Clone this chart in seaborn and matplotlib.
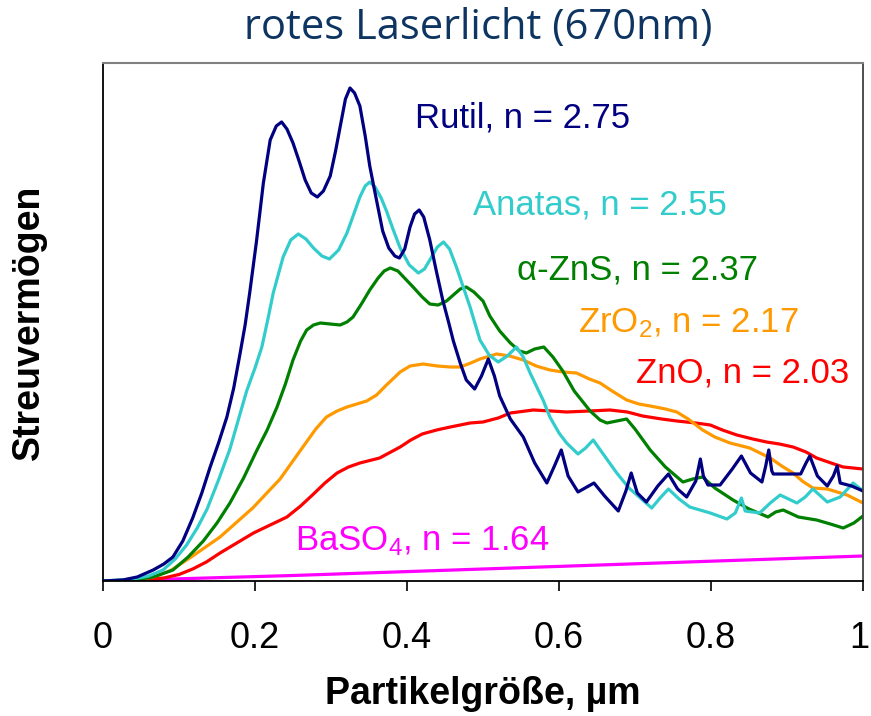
import matplotlib
matplotlib.use("Agg")
import matplotlib.pyplot as plt
import matplotlib.transforms as mtransforms
import seaborn as sns

sns.set_theme(style="white")
plt.rcParams['font.family'] = ['Liberation Sans', 'DejaVu Sans']
plt.rcParams['mathtext.default'] = 'regular'
plt.rcParams['text.color'] = 'black'
plt.rcParams['axes.labelcolor'] = 'black'
plt.rcParams['xtick.color'] = 'black'

# particle size (µm) and scattering power (arbitrary units, 0..518)
rutil_x = [0, 0.026, 0.045, 0.066, 0.080, 0.092, 0.105, 0.118, 0.130, 0.141, 0.152, 0.163, 0.172, 0.180,
           0.187, 0.193, 0.202, 0.211, 0.220, 0.228,
           0.235, 0.242, 0.250, 0.258, 0.266, 0.274, 0.282, 0.290, 0.299, 0.306, 0.312, 0.319, 0.325,
           0.331, 0.338, 0.345, 0.351, 0.358, 0.368, 0.376, 0.384, 0.390, 0.397, 0.404, 0.410, 0.416,
           0.422, 0.430, 0.438, 0.447, 0.455, 0.461, 0.470, 0.478, 0.489, 0.498, 0.507, 0.515, 0.522,
           0.536, 0.553, 0.568, 0.584, 0.594, 0.603, 0.612, 0.625, 0.646, 0.660, 0.678, 0.688, 0.695,
           0.703, 0.715, 0.730, 0.744, 0.756, 0.768, 0.780, 0.786, 0.790, 0.796, 0.812, 0.828, 0.840,
           0.852, 0.867, 0.872, 0.876, 0.880, 0.882, 0.918, 0.925, 0.930, 0.940, 0.953, 0.961, 0.966,
           0.970, 0.985, 1.0]
rutil_y = [0, 1, 4, 11, 17, 24, 40, 63, 88, 114, 138, 164, 193, 226,
           256, 288, 340, 398, 441, 455,
           459, 452, 438, 420, 401, 388, 384, 390, 405, 430, 454, 482, 493,
           488, 475, 445, 415, 388, 350, 333, 325, 323, 332, 354, 367, 371,
           364, 341, 312, 281, 258, 240, 218, 201, 192, 205, 222, 205, 185,
           162, 144, 118, 98, 115, 131, 105, 89, 98, 85, 70, 90, 108,
           88, 79, 95, 107, 92, 84, 100, 122, 105, 96, 96, 112, 125,
           108, 99, 115, 131, 110, 107, 107, 118, 125, 105, 95, 105, 115,
           98, 95, 90]

anatas_x = [0, 0.04, 0.060, 0.079, 0.095, 0.110, 0.124, 0.137, 0.152, 0.167, 0.178, 0.189, 0.200, 0.209,
            0.217, 0.224, 0.237, 0.247, 0.257, 0.267,
            0.277, 0.288, 0.298, 0.310, 0.321, 0.330, 0.338, 0.345, 0.351, 0.358, 0.366, 0.373, 0.382,
            0.391, 0.403, 0.415, 0.423, 0.430, 0.440, 0.448, 0.456, 0.465, 0.474, 0.483, 0.496, 0.508,
            0.520, 0.532, 0.544, 0.553, 0.562, 0.579, 0.588, 0.600, 0.610, 0.625, 0.635, 0.645, 0.660,
            0.676, 0.692, 0.707, 0.722, 0.733, 0.744, 0.758, 0.772, 0.799, 0.821, 0.832, 0.840, 0.845,
            0.864, 0.878, 0.891, 0.913, 0.924, 0.934, 0.953, 0.970, 0.987, 1.0]
anatas_y = [0, 2, 5, 11, 22, 36, 53, 72, 101, 132, 161, 190, 213, 234,
            262, 288, 324, 341, 347, 342,
            333, 325, 322, 331, 348, 367, 384, 395, 399, 394, 383, 370, 351,
            333, 316, 308, 312, 321, 334, 339, 332, 314, 294, 274, 241, 226,
            219, 225, 234, 224, 208, 181, 164, 148, 138, 127, 133, 141, 125,
            108, 93, 83, 73, 83, 92, 82, 74, 68, 62, 68, 83, 70,
            68, 78, 86, 78, 84, 92, 79, 84, 98, 90]

zns_x = [0, 0.04, 0.066, 0.092, 0.112, 0.132, 0.150, 0.167, 0.185, 0.202, 0.216, 0.229, 0.240, 0.250,
         0.260, 0.268, 0.277, 0.286, 0.299, 0.312,
         0.321, 0.329, 0.340, 0.351, 0.362, 0.370, 0.378, 0.388, 0.398, 0.408, 0.420, 0.430, 0.441,
         0.452, 0.461, 0.470, 0.478, 0.488, 0.500, 0.509, 0.522, 0.536, 0.548, 0.557, 0.568, 0.580,
         0.592, 0.605, 0.620, 0.641, 0.654, 0.663, 0.676, 0.689, 0.700, 0.720, 0.740, 0.763, 0.776,
         0.789, 0.805, 0.829, 0.850, 0.875, 0.885, 0.895, 0.915, 0.939, 0.957, 0.974, 0.988, 1.0]
zns_y = [0, 1, 4, 11, 24, 40, 58, 78, 103, 130, 151, 174, 197, 221,
         240, 251, 256, 258, 257, 256,
         259, 264, 277, 291, 303, 310, 313, 310, 302, 294, 284, 277, 276,
         280, 286, 292, 294, 289, 280, 265, 250, 238, 230, 228, 232, 234,
         224, 210, 190, 170, 161, 158, 160, 162, 152, 131, 114, 99, 102,
         104, 93, 81, 72, 64, 69, 71, 64, 61, 57, 53, 58, 65]

zro2_x = [0, 0.04, 0.066, 0.088, 0.118, 0.154, 0.197, 0.233, 0.263, 0.280, 0.294, 0.308, 0.321, 0.334, 0.347,
          0.360, 0.373, 0.391, 0.404, 0.421, 0.440, 0.457, 0.470, 0.484, 0.496, 0.518, 0.535, 0.553,
          0.570, 0.588, 0.605, 0.623, 0.640, 0.654, 0.672, 0.689, 0.705, 0.720, 0.740, 0.755, 0.770,
          0.789, 0.805, 0.825, 0.851, 0.878, 0.893, 0.908, 0.920, 0.934, 0.953, 0.979, 1.0]
zro2_y = [0, 1, 4, 10, 25, 44, 73, 102, 134, 152, 164, 170, 174, 177, 180,
          186, 196, 209, 215, 217, 215, 214, 214, 218, 222, 227, 225, 221,
          215, 211, 209, 208, 202, 198, 189, 181, 177, 175, 172, 169, 162,
          151, 144, 138, 133, 123, 115, 108, 100, 93, 92, 86, 78]

zno_x = [0, 0.04, 0.08, 0.100, 0.118, 0.136, 0.154, 0.198, 0.242, 0.260, 0.277, 0.292, 0.308, 0.323, 0.338, 0.364,
         0.391, 0.405, 0.420, 0.439, 0.457, 0.483, 0.500, 0.520, 0.536, 0.566, 0.590, 0.610, 0.640,
         0.667, 0.690, 0.710, 0.735, 0.755, 0.780, 0.799, 0.815, 0.834, 0.855, 0.873, 0.890, 0.908,
         0.925, 0.939, 0.958, 0.974, 1.0]
zno_y = [0, 0.5, 3, 6.5, 12, 19, 28, 48, 64, 75, 87, 98, 108, 114, 118, 123,
         134, 141, 147, 151, 154, 158, 159, 163, 168, 171, 170, 169, 170,
         171, 169, 165, 162, 160, 158, 156, 151, 146, 142, 139, 137, 134,
         129, 123, 118, 114, 112]

baso4_x = [0, 0.25, 0.5, 0.75, 1.0]
baso4_y = [0, 5.5, 12, 18.5, 25]

series_names = ["Rutil, n = 2.75", "Anatas, n = 2.55", "\u03b1-ZnS, n = 2.37",
                "ZrO$_2$, n = 2.17", "ZnO, n = 2.03", "BaSO$_4$, n = 1.64"]
xticks = [0, 0.2, 0.4, 0.6, 0.8, 1.0]
xtick_labels = ["0", "0.2", "0.4", "0.6", "0.8", "1"]

colors = ["#000080", "#33CCCC", "#008000", "#FF9900", "#FF0000", "#FF00FF"]
data = [(rutil_x, rutil_y), (anatas_x, anatas_y), (zns_x, zns_y),
        (zro2_x, zro2_y), (zno_x, zno_y), (baso4_x, baso4_y)]
label_pos = [(415, 118), (473, 205), (517, 270), (578, 323), (636, 373), (295, 541)]

W, H = 871, 716
fig = plt.figure(figsize=(W / 100, H / 100), dpi=100)
ax = fig.add_axes([103 / W, 1 - 581 / H, 760 / W, (581 - 62.7) / H])

for (xs, ys), c in list(zip(data, colors))[::-1]:
    sns.lineplot(x=xs, y=ys, color=c, lw=2.3, ax=ax, sort=False, estimator=None,
                 solid_joinstyle='round', solid_capstyle='round')

ax.set_xlim(0, 1)
ax.set_ylim(0, 518.3)
ax.set_yticks([])
ax.set_xticks(xticks)
ax.set_xticklabels(xtick_labels, fontsize=26)
ax.tick_params(axis='x', direction='out', length=7, width=1.2, color='black', bottom=True, pad=22)
# nudge the last tick label slightly left so it stays inside the figure
last = ax.get_xticklabels()[-1]
last.set_transform(last.get_transform() + mtransforms.ScaledTranslation(-3 / 72, 0, fig.dpi_scale_trans))
ax.set_xlabel("Partikelgröße, µm", fontsize=27, fontweight='bold', labelpad=14)
ax.set_ylabel("Streuvermögen", fontsize=27, fontweight='bold', labelpad=40)

for side in ['left', 'bottom']:
    ax.spines[side].set_color('black')
    ax.spines[side].set_linewidth(1.3)
ax.spines['top'].set_color('#808080')
ax.spines['top'].set_linewidth(1.5)
ax.spines['right'].set_color('#404040')
ax.spines['right'].set_linewidth(1.3)

for name, c, (px, py) in zip(series_names, colors, label_pos):
    ax.text(px / W, 1 - py / H, name, transform=fig.transFigure, color=c, fontsize=25,
            ha='left', va='center')

fig.text(478 / W, 1 - 28 / H, "rotes Laserlicht (670nm)", fontsize=30, color='#0E3562',
         family=['Open Sans', 'DejaVu Sans'], ha='center', va='center')

fig.savefig("out.png", dpi=100)
